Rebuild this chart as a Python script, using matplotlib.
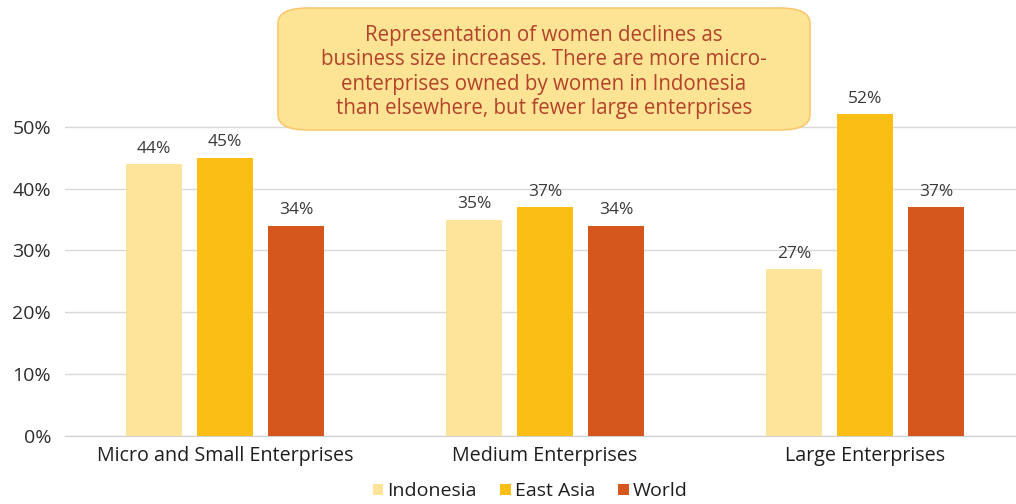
import matplotlib.pyplot as plt
import numpy as np
from matplotlib.patches import FancyBboxPatch

categories = ["Micro and Small Enterprises", "Medium Enterprises", "Large Enterprises"]
series_names = ["Indonesia", "East Asia", "World"]
indonesia = [0.44, 0.35, 0.27]
east_asia = [0.45, 0.37, 0.52]
world = [0.34, 0.34, 0.37]
labels = [["44%", "35%", "27%"], ["45%", "37%", "52%"], ["34%", "34%", "37%"]]
colors = ["#FDE49A", "#FBBE14", "#D5571E"]
yticks = [0, 0.1, 0.2, 0.3, 0.4, 0.5]
ytick_labels = ["0%", "10%", "20%", "30%", "40%", "50%"]
note = ("Representation of women declines as\n"
        "business size increases. There are more micro-\n"
        "enterprises owned by women in Indonesia\n"
        "than elsewhere, but fewer large enterprises")

plt.rcParams['font.family'] = ['Open Sans', 'DejaVu Sans']

fig = plt.figure(figsize=(10.16, 5.04), dpi=100)
ax = fig.add_axes([0.064, 0.135, 0.945, 0.736])

x = np.arange(len(categories))
width = 0.175
pitch = 0.222
data = [indonesia, east_asia, world]
for i, (vals, c, name) in enumerate(zip(data, colors, series_names)):
    bars = ax.bar(x + (i - 1) * pitch, vals, width, color=c, label=name, zorder=3)
    for b, lab in zip(bars, labels[i]):
        ax.text(b.get_x() + b.get_width() / 2, b.get_height() + 0.012, lab,
                ha='center', va='bottom', fontsize=12.5, color='#3A3A3A')

ax.set_xlim(-0.5, 2.5)
ax.set_ylim(0, 0.6)
ax.set_yticks(yticks)
ax.set_yticklabels(ytick_labels, fontsize=14, color='#2E2E2E')
ax.set_xticks(x)
ax.set_xticklabels(categories, fontsize=14.2, color='#1E1E1E')
ax.tick_params(axis='x', length=0, pad=7)
ax.tick_params(axis='y', length=0, pad=10)
ax.grid(axis='y', color='#D9D9D9', linewidth=1, zorder=0)
for s in ['top', 'right', 'left']:
    ax.spines[s].set_visible(False)
ax.spines['bottom'].set_color('#D0D0D0')

leg = fig.legend(loc='center', bbox_to_anchor=(0.522, 0.025), ncol=3, frameon=False,
                 fontsize=14, handlelength=0.55, handleheight=0.55, handletextpad=0.2,
                 columnspacing=1.2)
for t in leg.get_texts():
    t.set_color('#1E1E1E')

box = FancyBboxPatch((278 / 1016, 1 - 130 / 504), (810 - 278) / 1016, (130 - 8) / 504,
                     boxstyle="round,pad=0,rounding_size=0.03",
                     transform=fig.transFigure, facecolor='#FDE494',
                     edgecolor='#F9C870', linewidth=1.2, zorder=5)
fig.patches.append(box)
fig.text(544 / 1016, 1 - 72 / 504, note, ha='center', va='center', fontsize=14.8,
         color='#B3422A', linespacing=1.2, zorder=6)

fig.savefig('out.png', dpi=100)
